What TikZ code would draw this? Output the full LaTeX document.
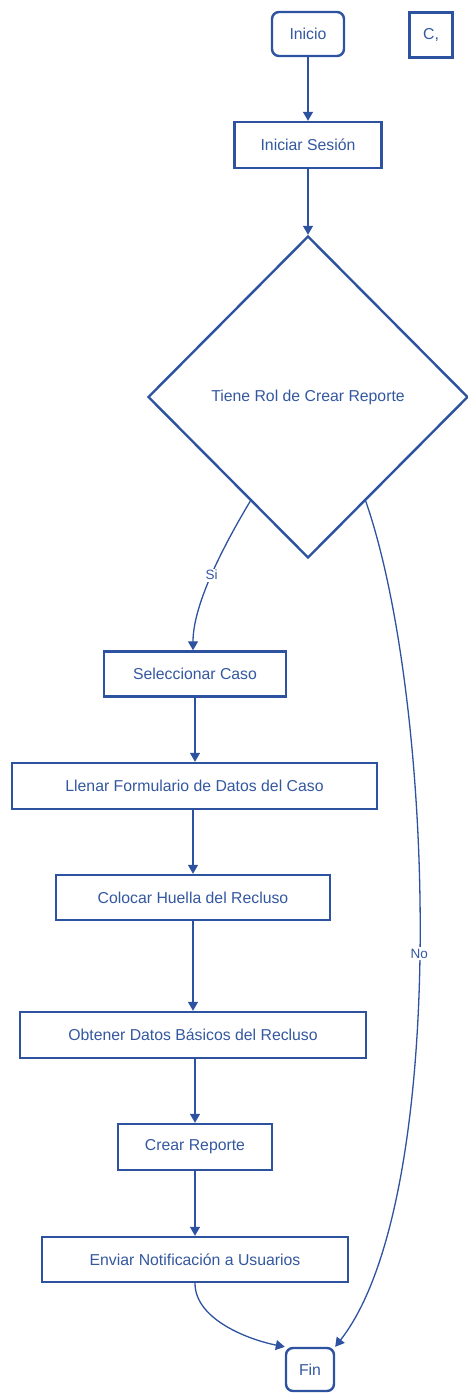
\documentclass[tikz,border=0pt]{standalone}
\usepackage{fontspec}
\setmainfont{Liberation Sans}
\usetikzlibrary{shapes.geometric,arrows.meta}
\definecolor{fc}{RGB}{44,82,160}
\definecolor{tc}{RGB}{52,88,160}
\tikzset{
  box/.style={draw=fc, line width=2.4pt, fill=white, text=tc, font=\fontsize{15.8}{18}\selectfont, inner sep=0pt},
  term/.style={box, rounded corners=7pt},
  conn/.style={draw=fc, line width=1.3pt, -{Triangle[width=10pt,length=9pt]}},
  lbl/.style={fill=white, text=tc, font=\fontsize{13.5}{15}\selectfont, inner sep=1.5pt}
}
\begin{document}
\begin{tikzpicture}[x=1pt,y=-1pt]
\useasboundingbox (0,0) rectangle (467,1393);
\node[term, minimum width=72pt, minimum height=44pt] (inicio) at (308,34) {Inicio};
\node[box, minimum width=43pt, minimum height=45pt] (c) at (431,35) {C,};
\node[box, minimum width=147pt, minimum height=46pt] (sesion) at (308,145) {Iniciar Sesión};
\node[box, shape=diamond, aspect=1, minimum width=320pt, minimum height=322pt] (dia) at (308,397) {Tiene Rol de Crear Reporte};
\node[box, minimum width=182pt, minimum height=45pt] (sel) at (195,674) {Seleccionar Caso};
\node[box, minimum width=365pt, minimum height=46pt] (llenar) at (194.5,786) {Llenar Formulario de Datos del Caso};
\node[box, minimum width=274pt, minimum height=45pt] (huella) at (193,897.5) {Colocar Huella del Recluso};
\node[box, minimum width=346pt, minimum height=46pt] (obtener) at (193,1035) {Obtener Datos Básicos del Recluso};
\node[box, minimum width=154pt, minimum height=46pt] (crear) at (195,1147) {Crear Reporte};
\node[box, minimum width=306pt, minimum height=45pt] (enviar) at (195,1259.5) {Enviar Notificación a Usuarios};
\node[term, minimum width=48pt, minimum height=43pt] (fin) at (310,1369.5) {Fin};

\draw[conn] (inicio.south) -- (sesion.north);
\draw[conn] (sesion.south) -- (dia.north);
\draw[conn] (dia.241) .. controls (215,560) and (193,610) .. (sel.north -| 193,0)
  node[lbl, pos=0.45] {Si};
\draw[conn] (dia.299) .. controls (435,700) and (450,1200) .. (fin.north east)
  node[lbl, pos=0.51] {No};
\draw[conn] (sel.south) -- (llenar.north -| sel.south);
\draw[conn] (llenar.south -| 193,0) -- (huella.north -| 193,0);
\draw[conn] (huella.south) -- (obtener.north);
\draw[conn] (obtener.south -| crear.north) -- (crear.north);
\draw[conn] (crear.south) -- (enviar.north);
\draw[conn] (enviar.south) .. controls (195,1320) and (250,1340) .. (fin.north west);
\end{tikzpicture}
\end{document}
